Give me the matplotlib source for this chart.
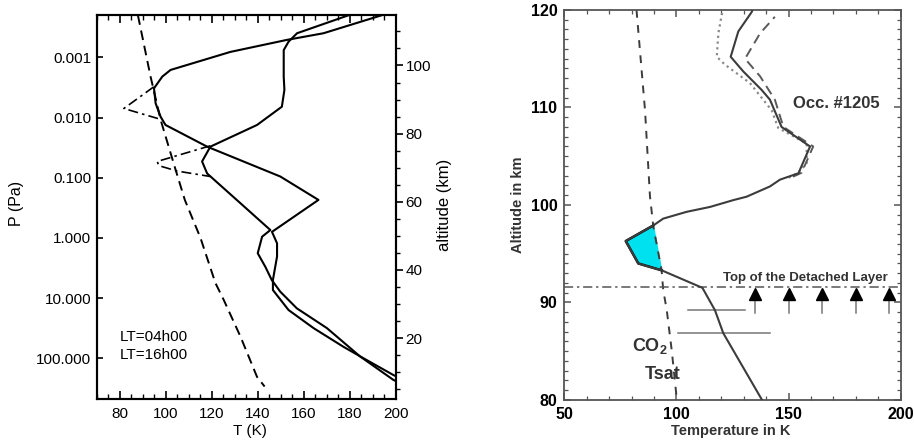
import numpy as np
import matplotlib
matplotlib.use("Agg")
import matplotlib.pyplot as plt
from matplotlib.ticker import FixedLocator, MultipleLocator, NullLocator

plt.rcParams['font.family'] = ['Liberation Sans', 'DejaVu Sans']
plt.rcParams['mathtext.fontset'] = 'custom'
plt.rcParams['mathtext.rm'] = 'Liberation Sans'
plt.rcParams['mathtext.bf'] = 'Liberation Sans:bold'

# ---------------- left panel data (T in K, P in Pa) ----------------
tsat_T = [87.8, 93.3, 97.7, 104.2, 108.2, 115.0, 121.5, 125.1, 132.4, 139.6, 142.9]
tsat_P = [2.0e-4, 2.09e-3, 1.10e-2, 7.41e-2, 0.234, 1.0, 5.62, 10.7, 43.7, 204.0, 295.0]

lt04_T = [193.8, 168.5, 152.6, 128.0, 102.0, 98.4, 94.8, 95.5, 97.7, 99.8, 117.9,
          149.7, 166.3, 146.1, 148.3, 148.3, 146.5, 146.5, 153.3, 164.2, 177.2,
          185.9, 198.9, 203.0]
lt04_P = [2.0e-4, 3.98e-4, 5.13e-4, 8.13e-4, 1.62e-3, 2.09e-3, 3.27e-3, 5.81e-3,
          9.77e-3, 1.33e-2, 3.05e-2, 9.55e-2, 0.234, 0.794, 1.23, 2.04, 5.01,
          7.35, 15.8, 31.6, 64.6, 100.0, 190.0, 225.0]

lt16_T = [179.4, 157.0, 153.3, 151.2, 151.2, 151.5, 150.4, 139.6, 119.3, 115.7,
          117.9, 132.4, 145.4, 141.8, 139.9, 143.2, 146.0, 149.7, 156.9, 170.0,
          184.4, 198.9, 203.0]
lt16_P = [2.0e-4, 3.98e-4, 5.50e-4, 7.59e-4, 2.09e-3, 3.47e-3, 6.61e-3, 1.33e-2,
          3.05e-2, 5.37e-2, 8.51e-2, 0.266, 0.741, 0.955, 1.80, 3.02, 5.01, 7.83,
          14.8, 31.6, 93.3, 229.0, 270.0]

dd1_T = [94.7, 81.7, 97.6]
dd1_P = [3.09e-3, 7.08e-3, 1.07e-2]
dd2_T = [119.3, 96.2, 96.9, 104.9, 119.3]
dd2_P = [2.95e-2, 5.37e-2, 6.31e-2, 7.76e-2, 9.55e-2]

p_ticks = [1e-3, 1e-2, 1e-1, 1e0, 1e1, 1e2]
alt_ticks = [20, 40, 60, 80, 100]

# ---------------- right panel data (T in K, altitude in km) ----------------
prof_T = [139.2, 120.9, 117.2, 111.6, 93.4, 83.0, 77.4, 89.7, 94.1, 104.6, 115.0,
          125.4, 131.3, 141.7, 146.2, 154.4, 159.6, 146.9, 141.7, 138.0, 129.8,
          124.2, 127.6, 133.6, 134.2]
prof_z = [79.6, 86.85, 89.2, 91.5, 93.3, 94.0, 96.3, 97.9, 98.6, 99.3, 99.8,
          100.5, 100.85, 101.9, 102.6, 103.25, 106.0, 108.0, 110.8, 111.8, 113.7,
          115.2, 117.8, 119.8, 120.2]
# points of the profile colder than Tsat (the cyan pocket)
cold_idx = slice(4, 8)

dash_T = [152.0, 155.8, 161.0, 147.7, 143.9, 137.3, 130.6, 137.3, 143.9]
dash_z = [102.9, 103.3, 106.0, 108.0, 110.8, 113.2, 115.0, 117.6, 119.3]

dot_T = [150.0, 154.3, 158.1, 158.1, 145.4, 142.5, 132.8, 121.6, 118.0, 118.7, 120.2, 121.0]
dot_z = [102.8, 103.3, 104.3, 106.3, 107.9, 109.7, 112.5, 114.4, 115.2, 117.6, 119.5, 120.2]

tsat2_T = [82.2, 86.0, 88.2, 89.7, 93.4, 94.1, 95.7, 97.9, 100.2]
tsat2_z = [120.0, 109.7, 100.9, 97.8, 93.3, 91.3, 89.2, 85.1, 80.0]

layer_top = 91.55
arrow_T = [135, 150, 165, 180, 195]
arrow_base, arrow_head = 88.9, 90.9
bar_z = [89.2, 86.85]
bar_T0 = [105.3, 100.8]
bar_T1 = [130.6, 141.7]

fig = plt.figure(figsize=(9.14, 4.41), dpi=100)

# ================= left panel =================
ax = fig.add_axes([0.1061, 0.0959, 0.3271, 0.8707])
ax.plot(lt04_T, lt04_P, color='black', lw=1.5)
ax.plot(lt16_T, lt16_P, color='black', lw=1.5)
ax.plot(dd1_T, dd1_P, color='black', lw=1.2, dashes=(6, 2.5, 1.5, 2.5))
ax.plot(dd2_T, dd2_P, color='black', lw=1.2, dashes=(6, 2.5, 1.5, 2.5))
ax.plot(tsat_T, tsat_P, color='black', lw=1.4, dashes=(5, 3))
ax.set_yscale('log')
ax.set_xlim(70, 200)
ax.set_ylim(470, 1.96e-4)
ax.yaxis.set_major_locator(FixedLocator(p_ticks))
ax.yaxis.set_minor_locator(NullLocator())
ax.set_yticklabels(['%.3f' % p for p in p_ticks])
ax.xaxis.set_major_locator(MultipleLocator(20))
ax.xaxis.set_minor_locator(MultipleLocator(5))
ax.set_xticks([80, 100, 120, 140, 160, 180, 200])
ax.tick_params(axis='x', which='both', direction='in', top=True, labelsize=11, pad=6)
ax.tick_params(axis='x', which='major', length=6, width=1.2)
ax.tick_params(axis='x', which='minor', length=3.5, width=1.0)
ax.tick_params(axis='y', which='major', direction='in', right=True, length=4,
               width=1.2, labelsize=11, pad=4)
for s in ax.spines.values():
    s.set_linewidth(1.5)
ax.text(0.077, 0.161, 'LT=04h00', transform=ax.transAxes, fontsize=11, va='center')
ax.text(0.077, 0.114, 'LT=16h00', transform=ax.transAxes, fontsize=11, va='center')

ax2 = ax.twinx()
ax2.set_ylim(2.2, 114.9)
ax2.yaxis.set_major_locator(FixedLocator(alt_ticks))
ax2.yaxis.set_minor_locator(MultipleLocator(5))
ax2.tick_params(axis='y', which='both', direction='out', labelsize=11, pad=2)
ax2.tick_params(axis='y', which='major', length=5, width=1.2)
ax2.tick_params(axis='y', which='minor', length=3, width=1.0)
for s in ax2.spines.values():
    s.set_linewidth(1.5)

fig.text(17 / 914, 1 - 203 / 441, 'P (Pa)', rotation=90, ha='center', va='center', fontsize=11.5)
fig.text(445 / 914, 1 - 205 / 441, 'altitude (km)', rotation=90, ha='center', va='center', fontsize=12)
fig.text(250 / 914, 1 - 431 / 441, 'T (K)', ha='center', va='center', fontsize=11)

# ================= right panel =================
bx = fig.add_axes([0.6174, 0.0930, 0.3680, 0.8844])
frame = '#555555'
line = '#3c3c3c'

bx.fill(prof_T[cold_idx], prof_z[cold_idx], color='#00e1f0', zorder=1)
bx.plot(prof_T[cold_idx], prof_z[cold_idx], color='black', lw=1.8, zorder=3)
bx.plot(dot_T, dot_z, color='#8a8a8a', lw=1.6, linestyle=(0, (1, 1.6)), zorder=2)
bx.plot(dash_T, dash_z, color='#5a5a5a', lw=1.4, dashes=(5, 3), zorder=2)
bx.plot(prof_T, prof_z, color=line, lw=1.5, zorder=3)
bx.plot(tsat2_T, tsat2_z, color=line, lw=1.4, dashes=(4, 3.8), zorder=2)
bx.axhline(layer_top, color='#555555', lw=1.1, dashes=(6, 2.5, 1.5, 2.5), zorder=2)
for t0, t1, z in zip(bar_T0, bar_T1, bar_z):
    bx.plot([t0, t1], [z, z], color='#777777', lw=1.1)
for t in arrow_T:
    bx.plot([t, t], [arrow_base, arrow_head], color='#777777', lw=1.1)
    bx.plot([t], [arrow_head], marker='^', color='black', markersize=8, zorder=4)

bx.set_xlim(50, 200)
bx.set_ylim(80, 120)
bx.xaxis.set_major_locator(MultipleLocator(50))
bx.xaxis.set_minor_locator(MultipleLocator(10))
bx.yaxis.set_major_locator(MultipleLocator(10))
bx.yaxis.set_minor_locator(MultipleLocator(1))
bx.tick_params(which='both', direction='in', top=True, right=True, color=frame)
bx.tick_params(which='major', length=5, width=1.1)
bx.tick_params(which='minor', length=3, width=0.9)
bx.tick_params(axis='both', labelsize=11.5, pad=5)
for lab in bx.get_xticklabels() + bx.get_yticklabels():
    lab.set_fontweight('bold')
for s in bx.spines.values():
    s.set_color(frame)
    s.set_linewidth(1.3)

bx.text(152.1, 110.4, 'Occ. #1205', fontsize=12, fontweight='bold', va='center', color='#333333')
bx.text(157.5, 92.55, 'Top of the Detached Layer', fontsize=9.5, fontweight='bold',
        ha='center', va='center', color='#333333')
bx.text(80.0, 85.5, r'CO$_\mathbf{2}$', fontsize=13, fontweight='bold', va='center', color='#333333')
bx.text(94.0, 82.6, 'Tsat', fontsize=13, fontweight='bold', ha='center', va='center', color='#333333')

fig.text(518 / 914, 1 - 205 / 441, 'Altitude in km', rotation=90, ha='center', va='center',
         fontsize=10.5, fontweight='bold', color='#333333')
fig.text(731 / 914, 1 - 431 / 441, 'Temperature in K', ha='center', va='center',
         fontsize=10.5, fontweight='bold', color='#333333')

fig.savefig('out.png', dpi=100)
